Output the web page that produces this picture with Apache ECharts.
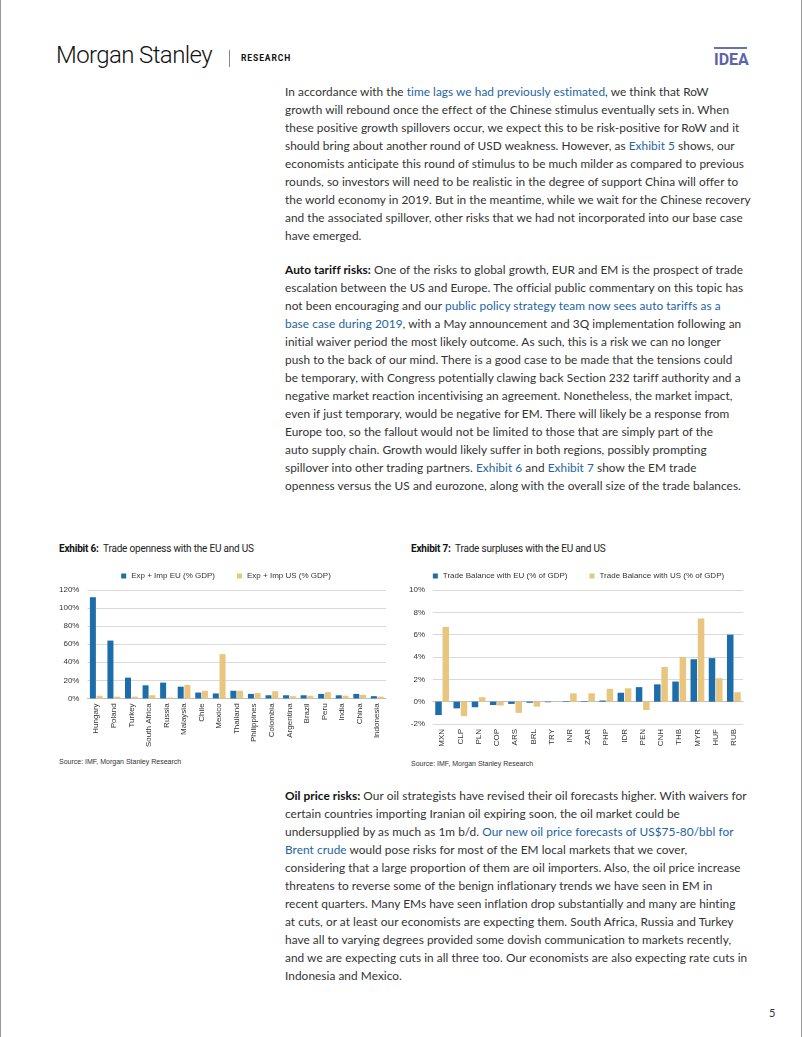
<!DOCTYPE html>
<html><head><meta charset="utf-8">
<script src="https://cdn.jsdelivr.net/npm/echarts@6/dist/echarts.min.js"></script>
<style>
html,body{margin:0;padding:0;background:#fff;}
#page{position:relative;width:802px;height:1037px;box-sizing:border-box;border-left:1px solid #9a9a9a;border-right:1px solid #9a9a9a;overflow:hidden;font-family:Lato,"Open Sans",sans-serif;color:#333;}
.abs{position:absolute;}
.para{position:absolute;left:284px;font-size:11.85px;line-height:18px;white-space:nowrap;color:#333;letter-spacing:0.05px;}
.lnk{color:#24649f;}
b{color:#111;font-weight:700;}
.ttl{position:absolute;top:543px;font-family:Roboto,"Liberation Sans",sans-serif;font-size:10px;color:#222;letter-spacing:-0.2px;}
.src{position:absolute;font-family:"Liberation Sans",Arial,sans-serif;font-size:7px;color:#333;}
</style></head>
<body><div id="page">
<div class="abs" style="left:55px;top:41px;font-family:Roboto,sans-serif;font-weight:300;font-size:24px;letter-spacing:-0.6px;color:#111;">Morgan Stanley</div>
<div class="abs" style="left:228px;top:50px;width:1px;height:17px;background:#888;"></div>
<div class="abs" style="left:240px;top:53px;font-family:Roboto,sans-serif;font-weight:700;font-size:8.5px;letter-spacing:0.9px;color:#111;">RESEARCH</div>
<div class="abs" style="left:713px;top:47px;width:33px;height:2px;background:#6a70b4;"></div>
<div class="abs" style="left:713px;top:50px;font-family:'Liberation Sans Narrow',Roboto,sans-serif;font-weight:700;font-size:16px;color:#5c63ab;letter-spacing:0px;">IDEA</div>

<div class="para" style="top:83px;">In accordance with the <span class="lnk">time lags we had previously estimated</span>, we think that RoW<br>growth will rebound once the effect of the Chinese stimulus eventually sets in. When<br>these positive growth spillovers occur, we expect this to be risk-positive for RoW and it<br>should bring about another round of USD weakness. However, as <span class="lnk">Exhibit 5</span> shows, our<br>economists anticipate this round of stimulus to be much milder as compared to previous<br>rounds, so investors will need to be realistic in the degree of support China will offer to<br>the world economy in 2019. But in the meantime, while we wait for the Chinese recovery<br>and the associated spillover, other risks that we had not incorporated into our base case<br>have emerged.</div>

<div class="para" style="top:261px;"><b>Auto tariff risks:</b> One of the risks to global growth, EUR and EM is the prospect of trade<br>escalation between the US and Europe. The official public commentary on this topic has<br>not been encouraging and our <span class="lnk">public policy strategy team now sees auto tariffs as a</span><br><span class="lnk">base case during 2019</span>, with a May announcement and 3Q implementation following an<br>initial waiver period the most likely outcome. As such, this is a risk we can no longer<br>push to the back of our mind. There is a good case to be made that the tensions could<br>be temporary, with Congress potentially clawing back Section 232 tariff authority and a<br>negative market reaction incentivising an agreement. Nonetheless, the market impact,<br>even if just temporary, would be negative for EM. There will likely be a response from<br>Europe too, so the fallout would not be limited to those that are simply part of the<br>auto supply chain. Growth would likely suffer in both regions, possibly prompting<br>spillover into other trading partners. <span class="lnk">Exhibit 6</span> and <span class="lnk">Exhibit 7</span> show the EM trade<br>openness versus the US and eurozone, along with the overall size of the trade balances.</div>

<div class="ttl" style="left:58px;"><b>Exhibit 6:</b>&nbsp; Trade openness with the EU and US</div>
<div class="ttl" style="left:410px;"><b>Exhibit 7:</b>&nbsp; Trade surpluses with the EU and US</div>
<div id="c1" class="abs" style="left:55px;top:560px;width:340px;height:190px;"></div>
<div id="c2" class="abs" style="left:405px;top:560px;width:345px;height:200px;"></div>
<div class="src" style="left:58px;top:758px;">Source: IMF, Morgan Stanley Research</div>
<div class="src" style="left:410px;top:760px;">Source: IMF, Morgan Stanley Research</div>

<div class="para" style="top:787px;"><b>Oil price risks:</b> Our oil strategists have revised their oil forecasts higher. With waivers for<br>certain countries importing Iranian oil expiring soon, the oil market could be<br>undersupplied by as much as 1m b/d. <span class="lnk">Our new oil price forecasts of US$75-80/bbl for</span><br><span class="lnk">Brent crude</span> would pose risks for most of the EM local markets that we cover,<br>considering that a large proportion of them are oil importers. Also, the oil price increase<br>threatens to reverse some of the benign inflationary trends we have seen in EM in<br>recent quarters. Many EMs have seen inflation drop substantially and many are hinting<br>at cuts, or at least our economists are expecting them. South Africa, Russia and Turkey<br>have all to varying degrees provided some dovish communication to markets recently,<br>and we are expecting cuts in all three too. Our economists are also expecting rate cuts in<br>Indonesia and Mexico.</div>
<div class="abs" style="left:768px;top:1006px;font-size:11px;color:#333;">5</div>
</div>
<script>
// Exhibit 6 data
var countries = ["Hungary","Poland","Turkey","South Africa","Russia","Malaysia","Chile","Mexico","Thailand","Philippines","Colombia","Argentina","Brazil","Peru","India","China","Indonesia"];
var openEU = [112, 64, 23, 14.5, 17.5, 13, 6.5, 5.5, 8.5, 5, 3.5, 3.5, 3.5, 5, 3.5, 5, 2.5];
var openUS = [3, 2, 2, 3.5, 1, 15, 8.5, 49, 8.5, 6, 8, 2.5, 3, 7, 3, 4, 2];
var openTicks = [0, 20, 40, 60, 80, 100, 120];
// Exhibit 7 data
var currencies = ["MXN","CLP","PLN","COP","ARS","BRL","TRY","INR","ZAR","PHP","IDR","PEN","CNH","THB","MYR","HUF","RUB"];
var balEU = [-1.2, -0.6, -0.5, -0.3, -0.2, -0.1, -0.05, 0.05, 0.05, 0.1, 0.8, 1.3, 1.55, 1.8, 3.8, 3.9, 6.0];
var balUS = [6.7, -1.3, 0.4, -0.35, -1.0, -0.45, 0, 0.75, 0.75, 1.15, 1.2, -0.75, 3.1, 4.0, 7.45, 2.1, 0.85];
var balTicks = [-2, 0, 2, 4, 6, 8, 10];

var BLUE = '#1c6da9', GOLD = '#e8c67f';
var FONT = '"Liberation Sans", Arial, sans-serif';

function mkOption(cats, a, b, names, ticks, barW, grid, legendTop){
  return {
    animation:false,
    textStyle:{fontFamily:FONT},
    legend:{top:legendTop, left:'center', itemWidth:5, itemHeight:5, itemGap:22, icon:'rect',
      textStyle:{fontSize:8, color:'#333', fontFamily:FONT}, data:names},
    grid:grid,
    xAxis:{type:'category', data:cats,
      axisLine:{onZero:true, lineStyle:{color:'#bfbfbf'}}, axisTick:{show:false},
      axisLabel:{rotate:90, fontSize:8, color:'#333', interval:0, margin:5, fontFamily:FONT}},
    yAxis:{type:'value', min:ticks[0], max:ticks[ticks.length-1], interval:ticks[1]-ticks[0],
      axisLine:{show:false}, axisTick:{show:false},
      axisLabel:{formatter:'{value}%', fontSize:8, color:'#333', margin:8, fontFamily:FONT},
      splitLine:{lineStyle:{color:'#d9d9d9'}}},
    series:[
      {name:names[0], type:'bar', data:a, barWidth:barW, barGap:'12%', itemStyle:{color:BLUE}},
      {name:names[1], type:'bar', data:b, barWidth:barW, itemStyle:{color:GOLD}}
    ]
  };
}
var c1 = echarts.init(document.getElementById('c1'), null, {renderer:'canvas'});
c1.setOption(mkOption(countries, openEU, openUS, ['Exp + Imp EU (% GDP)','Exp + Imp US (% GDP)'], openTicks, 6,
  {left:27, right:10, top:30, bottom:51}, 7));
var c2 = echarts.init(document.getElementById('c2'), null, {renderer:'canvas'});
c2.setOption(mkOption(currencies, balEU, balUS, ['Trade Balance with EU (% of GDP)','Trade Balance with US (% of GDP)'], balTicks, 6.5,
  {left:27, right:8, top:30, bottom:36}, 7));
</script>
</body></html>
